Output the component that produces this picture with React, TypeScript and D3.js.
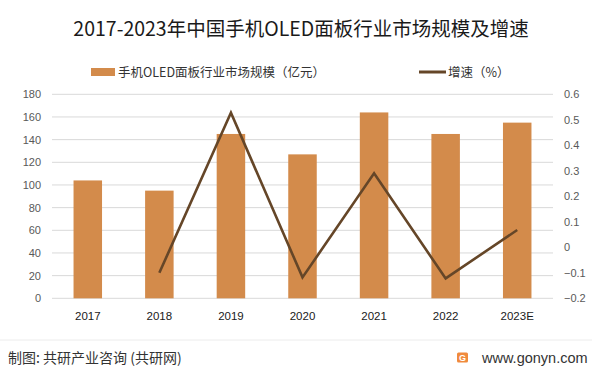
import React from "react";
import * as d3 from "d3";

const categories = ["2017", "2018", "2019", "2020", "2021", "2022", "2023E"];
const marketSize = [104, 95, 145, 127, 164, 145, 155];
const growth: (number | null)[] = [null, -0.1, 0.528, -0.118, 0.29, -0.122, 0.068];
const leftTicks = [0, 20, 40, 60, 80, 100, 120, 140, 160, 180];
const rightTicks = [-0.2, -0.1, 0, 0.1, 0.2, 0.3, 0.4, 0.5, 0.6];

const W = 601, H = 373;
const FONT = "'Noto Sans CJK SC', 'Noto Sans', sans-serif";

export default function App() {
  const xc = d3.scaleBand().domain(categories).range([52, 553]);
  const y = d3.scaleLinear().domain([0, 180]).range([298.3, 94.3]);
  const y2 = d3.scaleLinear().domain([-0.2, 0.6]).range([298.3, 94.3]);
  const pts = categories
    .map((c, i) => ({ c, v: growth[i] }))
    .filter((d) => d.v !== null) as { c: string; v: number }[];
  const line = d3
    .line<{ c: string; v: number }>()
    .x((d) => (xc(d.c) as number) + xc.bandwidth() / 2)
    .y((d) => y2(d.v));
  const bw = 28.5;
  return (
    <svg width={W} height={H} style={{ position: "absolute", left: 0, top: 0, background: "#fff" }} fontFamily={FONT}>
      <rect x={0} y={0} width={W} height={H} fill="#fff" />
      <text x={301} y={36} textAnchor="middle" fontSize={19.5} fill="#1a1a1a">
        2017-2023年中国手机OLED面板行业市场规模及增速
      </text>
      {/* legend */}
      <rect x={91} y={68} width={24} height={8} fill="#D38B4B" />
      <text x={118} y={76.5} fontSize={12.5} fill="#333">手机OLED面板行业市场规模（亿元）</text>
      <line x1={419} x2={446} y1={72} y2={72} stroke="#654628" strokeWidth={3} />
      <text x={448} y={76.5} fontSize={12.5} fill="#333">增速（%）</text>
      {/* grid */}
      {leftTicks.map((t) => (
        <line key={t} x1={52} x2={553} y1={y(t)} y2={y(t)} stroke="#d9d9d9" strokeWidth={1} />
      ))}
      {leftTicks.map((t) => (
        <text key={"l" + t} x={41} y={y(t) + 4} textAnchor="end" fontSize={11} fill="#595959" fontFamily="'Liberation Sans', Arial, sans-serif">
          {t}
        </text>
      ))}
      {rightTicks.map((t) => (
        <text key={"r" + t} x={564} y={y2(t) + 4} textAnchor="start" fontSize={11} fill="#595959" fontFamily="'Liberation Sans', Arial, sans-serif">
          {d3.format("")(Math.round(t * 10) / 10)}
        </text>
      ))}
      {categories.map((c, i) => {
        const cx = (xc(c) as number) + xc.bandwidth() / 2;
        return (
          <rect key={c} x={cx - bw / 2} y={y(marketSize[i])} width={bw} height={y(0) - y(marketSize[i])} fill="#D38B4B" />
        );
      })}
      <path d={line(pts) || ""} fill="none" stroke="#654628" strokeWidth={2.6} strokeLinejoin="miter" />
      {categories.map((c) => (
        <text key={"x" + c} x={(xc(c) as number) + xc.bandwidth() / 2} y={320} textAnchor="middle" fontSize={11.5} fill="#1a1a1a" fontFamily="'Liberation Sans', Arial, sans-serif">
          {c}
        </text>
      ))}
      {/* footer */}
      <line x1={0} x2={592} y1={340} y2={340} stroke="#ececec" strokeWidth={1} />
      <text x={8} y={362.5} fontSize={14} fill="#333">制图: 共研产业咨询 (共研网)</text>
      <rect x={457} y={352.5} width={11} height={10} rx={1.5} fill="#F08A3C" />
      <text x={462.5} y={361.2} textAnchor="middle" fontSize={9} fontWeight="bold" fill="#fff" fontFamily="'Liberation Sans', Arial, sans-serif">G</text>
      <text x={482} y={362.5} fontSize={14.5} fill="#333" fontFamily="'Liberation Sans', Arial, sans-serif">www.gonyn.com</text>
    </svg>
  );
}
